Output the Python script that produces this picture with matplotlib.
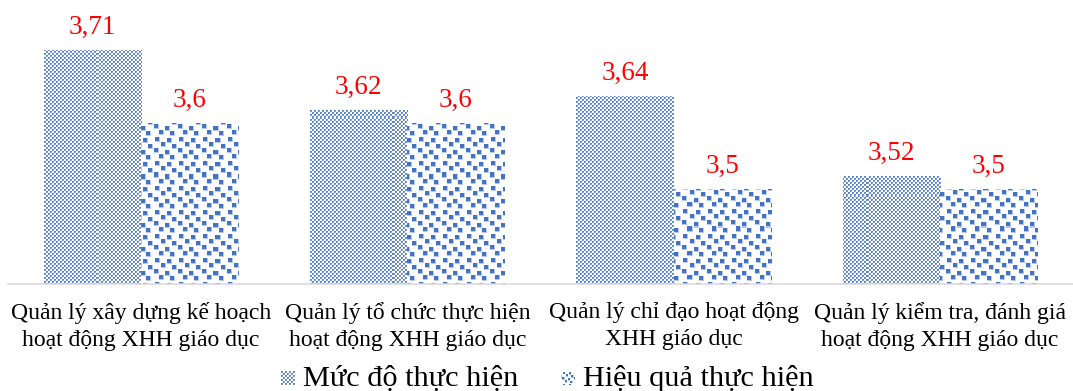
import numpy as np
import matplotlib
matplotlib.use("Agg")
import matplotlib.pyplot as plt

plt.rcParams['font.family'] = ['Liberation Serif', 'DejaVu Serif']

categories = [
    "Quản lý xây dựng kế hoạch\nhoạt động XHH giáo dục",
    "Quản lý tổ chức thực hiện\nhoạt động XHH giáo dục",
    "Quản lý chỉ đạo hoạt động\nXHH giáo dục",
    "Quản lý kiểm tra, đánh giá\nhoạt động XHH giáo dục",
]
series_names = ["Mức độ thực hiện", "Hiệu quả thực hiện"]
muc_do = [3.71, 3.62, 3.64, 3.52]
hieu_qua = [3.6, 3.6, 3.5, 3.5]

W_PX, H_PX, DPI = 1073, 391, 100
BLUE = np.array([0x44, 0x72, 0xC4, 255], dtype=float) / 255
SOFT = np.array([0x5C, 0x86, 0xCE, 255], dtype=float) / 255
MID = np.array([0x8E, 0xAB, 0xDD, 255], dtype=float) / 255
LIGHT = np.array([0xB5, 0xC8, 0xEA, 255], dtype=float) / 255
WHITE = np.array([1, 1, 1, 1], dtype=float)


def checker_tile():
    t = np.tile(WHITE, (4, 4, 1))
    t[0:2, 0:2] = SOFT
    t[2:4, 2:4] = SOFT
    t[1, 1] = MID
    t[3, 3] = MID
    return t


def confetti_tile():
    n = 24
    t = np.tile(WHITE, (n, n, 1))
    spots = [(1, 3), (2, 15), (6, 9), (8, 20), (12, 2), (14, 13), (18, 7), (19, 18)]
    for r, c in spots:
        for dr in range(5):
            for dc in range(5):
                rr, cc = (r + dr) % n, (c + dc) % n
                t[rr, cc] = BLUE if (dr < 4 and dc < 4) else LIGHT
    return t


def texture(tile, h, w):
    th, tw = tile.shape[:2]
    big = np.tile(tile, (h // th + 1, w // tw + 1, 1))
    return big[:h, :w]


fig = plt.figure(figsize=(W_PX / DPI, H_PX / DPI), dpi=DPI)
ax_l, ax_b, ax_r, ax_t = 8, 284, 1073, 17  # axes box in pixels (top-origin)
ax = fig.add_axes([ax_l / W_PX, (H_PX - ax_b) / H_PX,
                   (ax_r - ax_l) / W_PX, (ax_b - ax_t) / H_PX])

x = np.arange(len(categories))
width = 0.365
ylim = (3.356, 3.760)
xlim = (-0.5, len(categories) - 0.5)

bars1 = ax.bar(x - width / 2, muc_do, width, bottom=0, color='none', edgecolor='none')
bars2 = ax.bar(x + width / 2, hieu_qua, width, bottom=0, color='none', edgecolor='none')

ax_w_px, ax_h_px = ax_r - ax_l, ax_b - ax_t
tex1 = texture(checker_tile(), ax_h_px, ax_w_px)
tex2 = texture(confetti_tile(), ax_h_px, ax_w_px)

for bars, tex in ((bars1, tex1), (bars2, tex2)):
    for b in bars:
        im = ax.imshow(tex, extent=(xlim[0], xlim[1], ylim[0], ylim[1]),
                       aspect='auto', interpolation='nearest', zorder=2)
        im.set_clip_path(b)

for bars, vals in ((bars1, muc_do), (bars2, hieu_qua)):
    for b, v in zip(bars, vals):
        ax.annotate(f"{v:g}".replace('.', ','),
                    (b.get_x() + b.get_width() / 2, v),
                    xytext=(0, 11.5), textcoords='offset points',
                    ha='center', va='baseline', color='#FF0000', fontsize=19.5)

ax.set_xlim(*xlim)
ax.set_ylim(*ylim)
ax.set_xticks(x)
ax.set_xticklabels(categories, fontsize=17, linespacing=1.4)
ax.tick_params(axis='x', length=0, pad=13)
ax.set_yticks([])
for s in ('top', 'left', 'right'):
    ax.spines[s].set_visible(False)
ax.spines['bottom'].set_color('#D9D9D9')
ax.spines['bottom'].set_linewidth(1.1)

# legend
marker = 14
fig.figimage(texture(checker_tile(), marker, marker), xo=281, yo=H_PX - 385, zorder=5)
fig.figimage(texture(confetti_tile()[::2, ::2], marker, marker), xo=561, yo=H_PX - 385, zorder=5)
fig.text(303 / W_PX, (H_PX - 385.7) / H_PX, series_names[0], fontsize=21.8, va='baseline')
fig.text(583 / W_PX, (H_PX - 385.7) / H_PX, series_names[1], fontsize=21.8, va='baseline')

fig.savefig("out.png", dpi=DPI)
